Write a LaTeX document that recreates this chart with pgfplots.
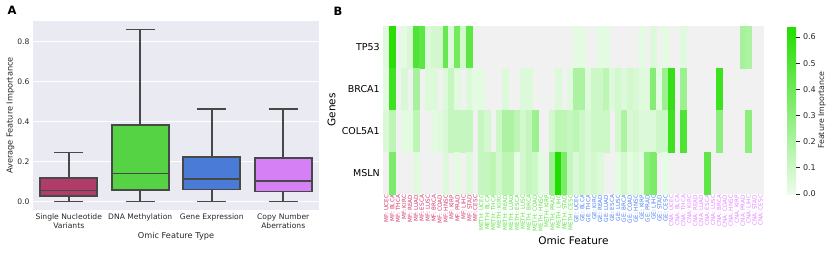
\documentclass[border=0pt]{standalone}
\usepackage{pgfplots}
\pgfplotsset{compat=1.18}
\usepgfplotslibrary{statistics}
\usepackage{fontspec}
\setmainfont{DejaVu Sans}
\pgfkeys{/pgf/number format/assume math mode=true}
\definecolor{bgA}{HTML}{EAEAF2}
\definecolor{lc}{HTML}{484848}
\definecolor{snv}{HTML}{B23C69}
\definecolor{meth}{HTML}{55D345}
\definecolor{ge}{HTML}{4A7BD6}
\definecolor{cna}{HTML}{D580F5}
\definecolor{mfl}{HTML}{D2386C}
\definecolor{methl}{HTML}{5BE043}
\definecolor{gel}{HTML}{4C80EE}
\definecolor{cnal}{HTML}{E287FF}
\definecolor{hmgrey}{HTML}{F1F1F1}
\definecolor{txt}{HTML}{262626}
\newcommand{\mfL}[1]{\textcolor{mfl}{MF: #1}}
\newcommand{\meL}[1]{\textcolor{methl}{METH: #1}}
\newcommand{\geL}[1]{\textcolor{gel}{GE: #1}}
\newcommand{\cnL}[1]{\textcolor{cnal}{CNA: #1}}
\begin{document}
\begin{tikzpicture}
\useasboundingbox (0,0) rectangle (830pt,254pt);
\node[font=\bfseries\fontsize{11.5}{12}\selectfont] at (12pt,244pt) {A};
\node[font=\bfseries\fontsize{11.5}{12}\selectfont] at (338pt,243pt) {B};
% Panel A
\begin{axis}[
  at={(33pt,44pt)}, anchor=south west, scale only axis, width=286pt, height=189pt,
  xmin=-0.5, xmax=3.5, ymin=-0.043, ymax=0.905,
  axis background/.style={fill=bgA},
  axis line style={draw=none},
  major tick length=0pt,
  ymajorgrids, grid style={white, line width=0.9pt},
  xtick={0,1,2,3},
  xticklabels={{Single Nucleotide\\Variants},{DNA Methylation},{Gene Expression},{Copy Number\\Aberrations}},
  xticklabel style={align=center, font=\fontsize{7.6}{9}\selectfont, text=txt},
  ytick={0,0.2,0.4,0.6,0.8},
  yticklabel style={font=\fontsize{7.6}{9}\selectfont, text=txt, /pgf/number format/.cd, fixed, fixed zerofill, precision=1},
  xlabel={Omic Feature Type}, ylabel={Average Feature Importance},
  xlabel style={font=\fontsize{8.2}{9}\selectfont, text=txt, at={(axis description cs:0.5,-0.1376)}, anchor=center},
  ylabel style={font=\fontsize{8.2}{9}\selectfont, text=txt, at={(axis description cs:-0.0787,0.5)}, anchor=center},
  boxplot/draw direction=y,
  boxplot/box extend=0.8, boxplot/whisker extend=0.4,
  boxplot/every box/.style={draw=lc, line width=1.8pt},
  boxplot/every whisker/.style={draw=lc, line width=1.8pt},
  boxplot/every median/.style={draw=lc, line width=1.8pt},
]
\addplot[boxplot/draw direction=y, boxplot prepared={draw position=0, lower whisker=0, lower quartile=0.028, median=0.055, upper quartile=0.117, upper whisker=0.245}, fill=snv, draw=lc, line width=1.8pt] coordinates {};
\addplot[boxplot/draw direction=y, boxplot prepared={draw position=1, lower whisker=0, lower quartile=0.057, median=0.14, upper quartile=0.383, upper whisker=0.862}, fill=meth, draw=lc, line width=1.8pt] coordinates {};
\addplot[boxplot/draw direction=y, boxplot prepared={draw position=2, lower whisker=0, lower quartile=0.06, median=0.112, upper quartile=0.222, upper whisker=0.462}, fill=ge, draw=lc, line width=1.8pt] coordinates {};
\addplot[boxplot/draw direction=y, boxplot prepared={draw position=3, lower whisker=0, lower quartile=0.05, median=0.104, upper quartile=0.216, upper whisker=0.462}, fill=cna, draw=lc, line width=1.8pt] coordinates {};
\end{axis}
% Panel B
\begin{axis}[
  at={(383.3pt,60pt)}, anchor=south west, scale only axis, width=380.2pt, height=168pt,
  xmin=-0.5, xmax=63.5, ymin=-0.5, ymax=3.5, y dir=reverse, enlargelimits=false,
  axis background/.style={fill=hmgrey},
  axis line style={draw=none},
  major tick length=0pt,
  xtick={0,...,63},
  xticklabels={\mfL{UCEC},\mfL{BLCA},\mfL{THCA},\mfL{KIRC},\mfL{READ},\mfL{LUAD},\mfL{ESCA},\mfL{LUSC},\mfL{BRCA},\mfL{COAD},\mfL{HNSC},\mfL{KIRP},\mfL{PRAD},\mfL{LIHC},\mfL{STAD},\mfL{CESC},
    \meL{UCEC},\meL{BLCA},\meL{THCA},\meL{KIRC},\meL{READ},\meL{LUAD},\meL{ESCA},\meL{LUSC},\meL{BRCA},\meL{COAD},\meL{HNSC},\meL{KIRP},\meL{PRAD},\meL{LIHC},\meL{STAD},\meL{CESC},
    \geL{UCEC},\geL{BLCA},\geL{THCA},\geL{KIRC},\geL{READ},\geL{LUAD},\geL{ESCA},\geL{LUSC},\geL{BRCA},\geL{COAD},\geL{HNSC},\geL{KIRP},\geL{PRAD},\geL{LIHC},\geL{STAD},\geL{CESC},
    \cnL{UCEC},\cnL{BLCA},\cnL{THCA},\cnL{KIRC},\cnL{READ},\cnL{LUAD},\cnL{ESCA},\cnL{LUSC},\cnL{BRCA},\cnL{COAD},\cnL{HNSC},\cnL{KIRP},\cnL{PRAD},\cnL{LIHC},\cnL{STAD},\cnL{CESC}},
  xticklabel style={rotate=90, anchor=east, font=\fontsize{5.7}{6}\selectfont, inner sep=0.8pt},
  ytick={0,1,2,3}, yticklabels={TP53,BRCA1,COL5A1,MSLN},
  yticklabel style={font=\fontsize{9.5}{10}\selectfont},
  xlabel={Omic Feature}, ylabel={Genes},
  xlabel style={font=\fontsize{10.5}{11}\selectfont, at={(axis description cs:0.5,-0.28)}, anchor=center},
  ylabel style={font=\fontsize{10.5}{11}\selectfont, at={(axis description cs:-0.136,0.5)}, anchor=center},
  colormap={greens}{rgb255=(236,252,236) rgb255=(34,221,0)},
  point meta min=0, point meta max=0.642,
  unbounded coords=jump,
  colorbar,
  colorbar style={
    at={(parent axis.north east)}, anchor=north west, xshift=15pt,
    width=9pt,
    axis line style={draw=none},
    axis background/.style={},
    ytick={0,0.1,0.2,0.3,0.4,0.5,0.6},
    ytick pos=right, yticklabel pos=right, tick align=outside,
    major tick length=3.5pt, tick style={line width=0.7pt, color=txt},
    yticklabel style={font=\fontsize{8}{9}\selectfont, text=txt, /pgf/number format/.cd, fixed, fixed zerofill, precision=1},
    ylabel={Feature Importance},
    ylabel style={font=\fontsize{7.9}{9}\selectfont, text=txt, at={(axis description cs:3.9,0.5)}, anchor=center},
  },
]
\addplot[matrix plot*, mesh/cols=64, point meta=explicit] table[row sep=\\, meta=v] {
x y v\\
0 0 0.04\\ 1 0 0.62\\ 2 0 nan\\ 3 0 0.03\\ 4 0 0.06\\ 5 0 0.50\\ 6 0 0.45\\ 7 0 0.05\\ 8 0 0.08\\ 9 0 0.08\\ 10 0 0.42\\ 11 0 0.05\\ 12 0 0.38\\ 13 0 0.08\\ 14 0 0.45\\ 15 0 nan\\
16 0 nan\\ 17 0 nan\\ 18 0 nan\\ 19 0 nan\\ 20 0 nan\\ 21 0 nan\\ 22 0 nan\\ 23 0 nan\\ 24 0 nan\\ 25 0 nan\\ 26 0 nan\\ 27 0 nan\\ 28 0 nan\\ 29 0 nan\\ 30 0 nan\\ 31 0 nan\\
32 0 0.03\\ 33 0 0.03\\ 34 0 nan\\ 35 0 nan\\ 36 0 0.03\\ 37 0 0.03\\ 38 0 nan\\ 39 0 nan\\ 40 0 nan\\ 41 0 nan\\ 42 0 nan\\ 43 0 0.03\\ 44 0 nan\\ 45 0 0.05\\ 46 0 nan\\ 47 0 0.03\\
48 0 nan\\ 49 0 nan\\ 50 0 0.04\\ 51 0 nan\\ 52 0 nan\\ 53 0 nan\\ 54 0 nan\\ 55 0 nan\\ 56 0 nan\\ 57 0 nan\\ 58 0 nan\\ 59 0 nan\\ 60 0 0.22\\ 61 0 0.20\\ 62 0 nan\\ 63 0 nan\\
0 1 0.03\\ 1 1 0.55\\ 2 1 nan\\ 3 1 0.06\\ 4 1 nan\\ 5 1 0.22\\ 6 1 nan\\ 7 1 0.05\\ 8 1 0.05\\ 9 1 nan\\ 10 1 0.05\\ 11 1 0.12\\ 12 1 0.04\\ 13 1 nan\\ 14 1 0.05\\ 15 1 0.03\\
16 1 0.03\\ 17 1 nan\\ 18 1 nan\\ 19 1 nan\\ 20 1 0.05\\ 21 1 nan\\ 22 1 nan\\ 23 1 0.05\\ 24 1 0.05\\ 25 1 nan\\ 26 1 nan\\ 27 1 nan\\ 28 1 nan\\ 29 1 0.05\\ 30 1 nan\\ 31 1 0.04\\
32 1 0.20\\ 33 1 0.20\\ 34 1 0.04\\ 35 1 0.10\\ 36 1 0.10\\ 37 1 0.15\\ 38 1 0.05\\ 39 1 0.08\\ 40 1 0.05\\ 41 1 0.08\\ 42 1 0.06\\ 43 1 0.04\\ 44 1 0.04\\ 45 1 0.32\\ 46 1 0.03\\ 47 1 0.25\\
48 1 0.58\\ 49 1 nan\\ 50 1 0.25\\ 51 1 nan\\ 52 1 nan\\ 53 1 nan\\ 54 1 nan\\ 55 1 nan\\ 56 1 0.55\\ 57 1 nan\\ 58 1 nan\\ 59 1 nan\\ 60 1 nan\\ 61 1 nan\\ 62 1 nan\\ 63 1 nan\\
0 2 0.06\\ 1 2 0.15\\ 2 2 nan\\ 3 2 0.03\\ 4 2 0.03\\ 5 2 0.15\\ 6 2 nan\\ 7 2 nan\\ 8 2 0.03\\ 9 2 0.04\\ 10 2 0.06\\ 11 2 0.12\\ 12 2 0.12\\ 13 2 0.12\\ 14 2 0.12\\ 15 2 nan\\
16 2 0.12\\ 17 2 0.08\\ 18 2 nan\\ 19 2 0.10\\ 20 2 0.20\\ 21 2 0.20\\ 22 2 0.15\\ 23 2 0.08\\ 24 2 0.12\\ 25 2 0.25\\ 26 2 nan\\ 27 2 nan\\ 28 2 0.08\\ 29 2 0.15\\ 30 2 0.15\\ 31 2 0.12\\
32 2 0.15\\ 33 2 0.10\\ 34 2 0.06\\ 35 2 0.10\\ 36 2 0.10\\ 37 2 0.10\\ 38 2 nan\\ 39 2 0.08\\ 40 2 0.20\\ 41 2 0.06\\ 42 2 0.08\\ 43 2 0.05\\ 44 2 0.05\\ 45 2 0.05\\ 46 2 0.10\\ 47 2 0.10\\
48 2 0.55\\ 49 2 nan\\ 50 2 0.50\\ 51 2 nan\\ 52 2 nan\\ 53 2 nan\\ 54 2 nan\\ 55 2 nan\\ 56 2 0.30\\ 57 2 nan\\ 58 2 nan\\ 59 2 nan\\ 60 2 nan\\ 61 2 0.30\\ 62 2 nan\\ 63 2 nan\\
0 3 nan\\ 1 3 0.35\\ 2 3 nan\\ 3 3 nan\\ 4 3 nan\\ 5 3 0.04\\ 6 3 nan\\ 7 3 nan\\ 8 3 nan\\ 9 3 nan\\ 10 3 0.05\\ 11 3 nan\\ 12 3 0.03\\ 13 3 nan\\ 14 3 0.05\\ 15 3 nan\\
16 3 0.12\\ 17 3 0.12\\ 18 3 0.15\\ 19 3 0.08\\ 20 3 0.15\\ 21 3 0.15\\ 22 3 0.02\\ 23 3 0.08\\ 24 3 0.12\\ 25 3 0.10\\ 26 3 0.03\\ 27 3 nan\\ 28 3 0.25\\ 29 3 0.64\\ 30 3 0.35\\ 31 3 0.12\\
32 3 0.06\\ 33 3 0.10\\ 34 3 0.05\\ 35 3 0.08\\ 36 3 0.05\\ 37 3 nan\\ 38 3 nan\\ 39 3 0.03\\ 40 3 0.08\\ 41 3 0.03\\ 42 3 0.05\\ 43 3 0.03\\ 44 3 0.30\\ 45 3 0.35\\ 46 3 nan\\ 47 3 0.02\\
48 3 nan\\ 49 3 nan\\ 50 3 nan\\ 51 3 nan\\ 52 3 nan\\ 53 3 nan\\ 54 3 0.45\\ 55 3 nan\\ 56 3 nan\\ 57 3 nan\\ 58 3 nan\\ 59 3 nan\\ 60 3 nan\\ 61 3 nan\\ 62 3 nan\\ 63 3 nan\\
};
\end{axis}
\end{tikzpicture}
\end{document}
